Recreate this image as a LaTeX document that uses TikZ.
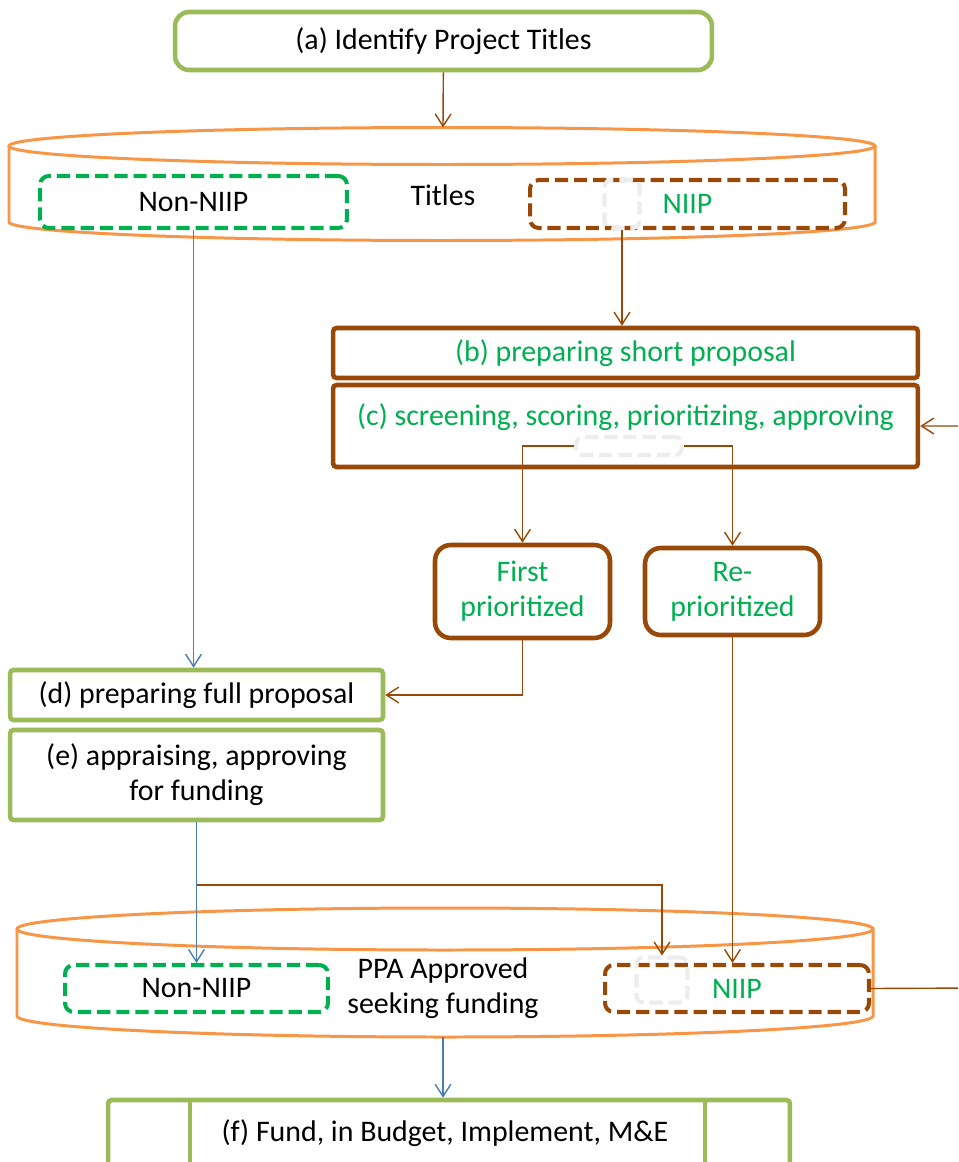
\documentclass[tikz,border=0pt]{standalone}
\usepackage{fontspec}
\setmainfont{Carlito}
\usetikzlibrary{arrows.meta,positioning}
\definecolor{boxgreen}{HTML}{9BBB59}
\definecolor{boxbrown}{HTML}{984807}
\definecolor{cylorange}{HTML}{F79646}
\definecolor{txtgreen}{HTML}{00B050}
\definecolor{linkblue}{HTML}{4A7EBB}
\definecolor{faintgrey}{HTML}{EDEDED}
\tikzset{
  txt/.style={font=\fontsize{17}{20}\selectfont, align=center, inner sep=0pt},
  greenbox/.style={rectangle, rounded corners=2pt, draw=boxgreen, line width=2.6pt, fill=white, txt, text=black},
  brownbox/.style={rectangle, rounded corners=2pt, draw=boxbrown, line width=2.6pt, fill=white, txt, text=txtgreen},
  dashgreenbox/.style={rectangle, rounded corners=5pt, draw=txtgreen, line width=2.3pt, dash pattern=on 7.5pt off 3.4pt, txt, text=black},
  dashbrownbox/.style={rectangle, rounded corners=5pt, draw=boxbrown, line width=2.3pt, dash pattern=on 7.5pt off 3.4pt, txt, text=txtgreen},
  faintbox/.style={rectangle, rounded corners=4pt, draw=faintgrey, line width=2.3pt, dash pattern=on 7.5pt off 3.4pt, inner sep=0pt},
  cyl/.style={draw=cylorange, line width=1.7pt},
  brownarrow/.style={draw=boxbrown, line width=0.8pt, -{Straight Barb[length=7pt,width=9pt]}},
  bluearrow/.style={draw=linkblue, line width=0.8pt, -{Straight Barb[length=7pt,width=9pt]}}
}
\begin{document}
\begin{tikzpicture}[x=0.02cm, y=0.02cm]
  \useasboundingbox[fill=white] (0,0) rectangle (958,-1162);
  \clip (0,0) rectangle (958,-1162);

  % top box
  \node[greenbox, rounded corners=8pt, minimum width=10.74cm, minimum height=1.16cm] (a) at (443.5,-41) {(a) Identify Project Titles};

  % cylinder of titles
  \draw[cyl] (442,-146) ellipse [x radius=433, y radius=18.5];
  \draw[cyl] (9,-146) -- (9,-222) arc[start angle=180, end angle=360, x radius=433, y radius=18.5] -- (875,-146);
  \coordinate (titlestop) at (443,-127.5);
  \node[dashgreenbox, minimum width=6.14cm, minimum height=1.04cm] (nonniip1) at (193.5,-202) {Non-NIIP};
  \node[txt] (titles) at (443,-195) {Titles};
  \node[dashbrownbox, minimum width=6.3cm, minimum height=0.96cm] (niip1) at (687.5,-204) {NIIP};
  \node[faintbox, minimum width=0.7cm, minimum height=0.96cm] (faint1) at (622,-204) {};

  % short proposal and screening
  \node[brownbox, minimum width=11.7cm, minimum height=1cm] (b) at (625.5,-353) {(b) preparing short proposal};
  \node[brownbox, minimum width=11.7cm, minimum height=1.64cm] (c) at (625.5,-426) {};
  \node[txt, text=txtgreen] (ctext) at (625.5,-417) {(c) screening, scoring, prioritizing, approving};
  \node[faintbox, minimum width=2.12cm, minimum height=0.36cm] (faint2) at (629,-446) {};

  \node[brownbox, rounded corners=9pt, minimum width=3.5cm, minimum height=1.86cm] (first) at (522.5,-591.5) {First\\prioritized};
  \node[brownbox, rounded corners=9pt, minimum width=3.5cm, minimum height=1.74cm] (repri) at (732.5,-591.5) {Re-\\prioritized};

  % full proposal and appraisal
  \node[greenbox, minimum width=7.46cm, minimum height=1cm] (d) at (196.5,-695) {(d) preparing full proposal};
  \node[greenbox, minimum width=7.46cm, minimum height=1.8cm] (e) at (196.5,-775) {(e) appraising, approving\\for funding};

  % cylinder of approved projects
  \draw[cyl] (445,-929) ellipse [x radius=428, y radius=21];
  \draw[cyl] (17,-929) -- (17,-1016) arc[start angle=180, end angle=360, x radius=428, y radius=21] -- (873,-929);
  \coordinate (ppabottom) at (443,-1037);
  \node[dashgreenbox, minimum width=5.26cm, minimum height=0.94cm] (nonniip2) at (196.5,-988.5) {Non-NIIP};
  \node[txt] (ppa) at (443,-988) {PPA Approved\\seeking funding};
  \node[dashbrownbox, minimum width=5.28cm, minimum height=0.94cm] (niip2) at (737,-988.5) {NIIP};
  \node[faintbox, minimum width=1.02cm, minimum height=0.9cm] (faint3) at (662,-980) {};

  % funding box
  \node[greenbox, minimum width=13.64cm, minimum height=1.5cm] (f) at (449,-1137.5) {};
  \draw[boxgreen, line width=2.6pt] (190,-1100) -- (190,-1175) (705,-1100) -- (705,-1175);
  \node[txt] (ftext) at (445,-1133) {(f) Fund, in Budget, Implement, M\&E};

  % connectors
  \draw[brownarrow] (a) -- (titlestop);
  \draw[bluearrow] (nonniip1.south) -- (nonniip1.south |- d.north);
  \draw[brownarrow] (faint1.south) -- (faint1.south |- b.north);
  \draw[brownarrow] (faint2.west) -| (first.north);
  \draw[brownarrow] (faint2.east) -| (repri.north);
  \draw[brownarrow] (first.south) |- (d.east);
  \draw[brownarrow] (repri.south) -- (repri.south |- niip2.north);
  \draw[bluearrow] (e.south) -- (nonniip2.north);
  \coordinate (split) at (196.5,-885);
  \draw[brownarrow] (split) -| (faint3.north);
  \coordinate (loopright) at (975,-988);
  \draw[brownarrow] (niip2.east) -- (loopright) |- (c.east);
  \draw[bluearrow] (ppabottom) -- (ppabottom |- f.north);
\end{tikzpicture}
\end{document}
